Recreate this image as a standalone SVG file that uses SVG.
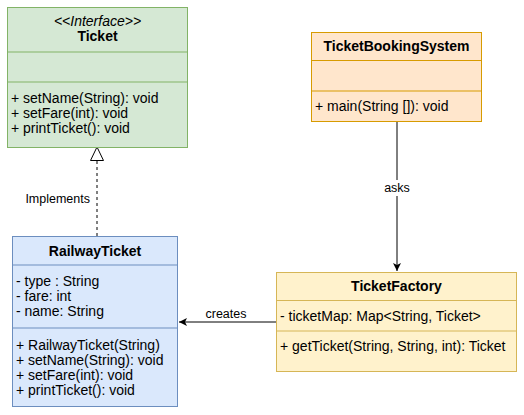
<svg xmlns="http://www.w3.org/2000/svg" width="524" height="415" viewBox="0 0 524 415">
<style>
text{font-family:"Liberation Sans",Arial,sans-serif;font-size:14px;fill:#000}
.t{font-weight:bold;text-anchor:middle}
.i{font-style:italic;text-anchor:middle}
.m{text-anchor:start}
.l{font-size:12.5px}
.g rect{fill:#d5e8d4;stroke:#82b366}.g line{stroke:#82b366}
.o rect{fill:#ffe6cc;stroke:#d79b00}.o line{stroke:#d79b00}
.b rect{fill:#dae8fc;stroke:#6c8ebf}.b line{stroke:#6c8ebf}
.y rect{fill:#fff2cc;stroke:#d6b656}.y line{stroke:#d6b656}
.c{stroke:#000;fill:none;stroke-width:1}
</style>
<defs>
<marker id="arr" markerWidth="10" markerHeight="10" refX="8" refY="4" orient="auto" markerUnits="userSpaceOnUse" viewBox="0 0 10 8">
<path d="M0,0 L8,4 L0,8 L2,4 Z" fill="#000"/>
</marker>
</defs>
<rect width="524" height="415" fill="#fff"/>
<g id="connectors">
<path class="c" d="M97,236 L97,161" stroke-dasharray="3,3"/>
<path d="M97,147 L90.5,160.5 L103.5,160.5 Z" fill="#fff" stroke="#000"/>
<text class="l" x="90" y="203" style="text-anchor:end">Implements</text>
<path class="c" d="M397,122 L397,271" marker-end="url(#arr)"/>
<rect x="380" y="180" width="33" height="16" fill="#fff"/>
<text class="l" x="397" y="192" style="text-anchor:middle">asks</text>
<path class="c" d="M276,322 L179,322" marker-end="url(#arr)"/>
<text class="l" x="226" y="318" style="text-anchor:middle">creates</text>
</g>
<g id="Ticket" class="g">
<rect x="7.5" y="7.5" width="180" height="140"/>
<line x1="7.5" y1="52" x2="187.5" y2="52"/>
<line x1="7.5" y1="82" x2="187.5" y2="82"/>
<text class="i" x="97.5" y="26">&lt;&lt;Interface&gt;&gt;</text>
<text class="t" x="97.5" y="41">Ticket</text>
<text class="m" x="11" y="103">+ setName(String): void</text>
<text class="m" x="11" y="118">+ setFare(int): void</text>
<text class="m" x="11" y="133">+ printTicket(): void</text>
</g>
<g id="TicketBookingSystem" class="o">
<rect x="311.5" y="32.5" width="170" height="89"/>
<line x1="311.5" y1="60.5" x2="481.5" y2="60.5"/>
<line x1="311.5" y1="91" x2="481.5" y2="91"/>
<text class="t" x="396.5" y="51">TicketBookingSystem</text>
<text class="m" x="315" y="111">+ main(String []): void</text>
</g>
<g id="RailwayTicket" class="b">
<rect x="12.5" y="236.5" width="165" height="170"/>
<line x1="12.5" y1="265" x2="177.5" y2="265"/>
<line x1="12.5" y1="328" x2="177.5" y2="328"/>
<text class="t" x="95" y="256">RailwayTicket</text>
<text class="m" x="16" y="286">- type : String</text>
<text class="m" x="16" y="301">- fare: int</text>
<text class="m" x="16" y="316">- name: String</text>
<text class="m" x="16" y="350">+ RailwayTicket(String)</text>
<text class="m" x="16" y="365">+ setName(String): void</text>
<text class="m" x="16" y="380">+ setFare(int): void</text>
<text class="m" x="16" y="395">+ printTicket(): void</text>
</g>
<g id="TicketFactory" class="y">
<rect x="276.5" y="272.5" width="240" height="99"/>
<line x1="276.5" y1="300.5" x2="516.5" y2="300.5"/>
<line x1="276.5" y1="331" x2="516.5" y2="331"/>
<text class="t" x="396.5" y="291">TicketFactory</text>
<text class="m" x="280" y="321">- ticketMap: Map&lt;String, Ticket&gt;</text>
<text class="m" x="280" y="351">+ getTicket(String, String, int): Ticket</text>
</g>
</svg>
